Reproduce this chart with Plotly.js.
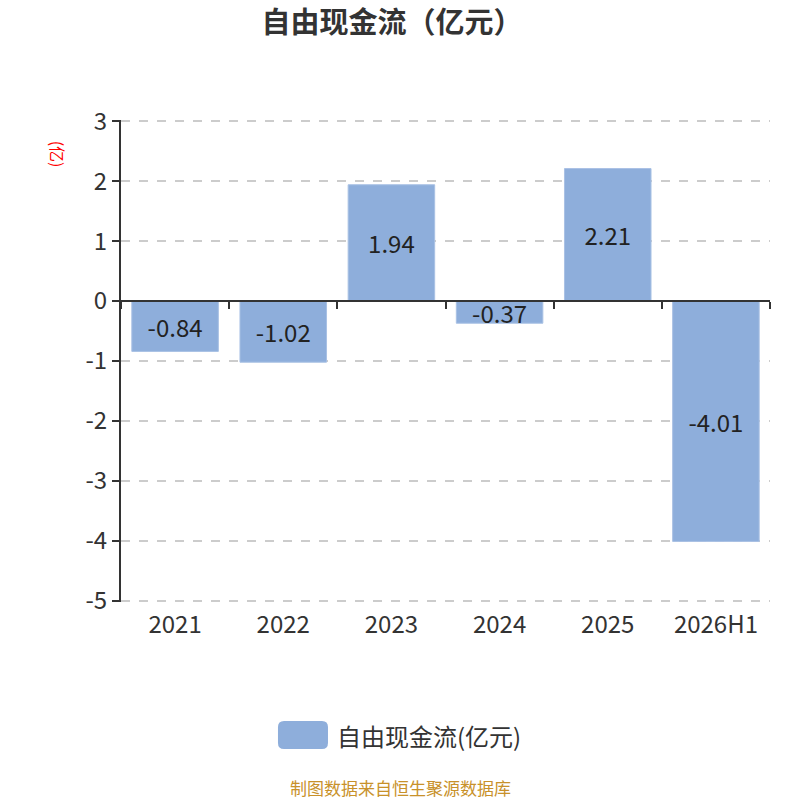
<!DOCTYPE html>
<html>
<head>
<meta charset="utf-8">
<script src="https://cdn.plot.ly/plotly-3.0.1.min.js"></script>
<style>
html,body{margin:0;padding:0;background:#fff;}
#chart{width:800px;height:800px;}
</style>
</head>
<body>
<div id="chart"></div>
<script>
var categories = ["2021", "2022", "2023", "2024", "2025", "2026H1"];
var values = [-0.84, -1.02, 1.94, -0.37, 2.21, -4.01];
var seriesName = "自由现金流(亿元)";
var yTicks = [3, 2, 1, 0, -1, -2, -3, -4, -5];

var FONT = '"Noto Sans CJK SC", "Noto Sans", sans-serif';
var BAR_COLOR = '#8eaedb';

var trace = {
  type: 'bar',
  x: categories,
  y: values,
  name: seriesName,
  width: 0.8,
  marker: {color: BAR_COLOR, line: {color: '#a9c1e4', width: 1}},
  text: values.map(function(v){return v.toFixed(2);}),
  textposition: 'inside',
  insidetextanchor: 'middle',
  textangle: 0,
  constraintext: 'none',
  textfont: {family: FONT, size: 24, color: '#222'},
  cliponaxis: false,
  showlegend: false,
  hoverinfo: 'x+y'
};

// helper trace on the zero-line axis (for boundary tick marks)
var helper = {
  type: 'bar',
  x: categories,
  y: values.map(function(){return 0;}),
  xaxis: 'x2',
  yaxis: 'y',
  showlegend: false,
  hoverinfo: 'skip',
  marker: {color: 'rgba(0,0,0,0)'}
};

var layout = {
  width: 800,
  height: 800,
  paper_bgcolor: '#fff',
  plot_bgcolor: '#fff',
  margin: {l: 121, r: 30, t: 120, b: 198},
  title: {
    text: '<b>自由现金流（亿元）</b>',
    font: {family: FONT, size: 29, color: '#333'},
    x: 0.49, xanchor: 'center',
    y: 0.972, yanchor: 'middle'
  },
  font: {family: FONT, color: '#333'},
  uniformtext: {mode: 'show', minsize: 24},
  bargap: 0.2,
  showlegend: false,
  xaxis: {
    type: 'category',
    showline: false,
    ticks: '',
    showgrid: false,
    zeroline: false,
    tickfont: {family: FONT, size: 24, color: '#333'},
    ticklabelstandoff: 6,
    fixedrange: true
  },
  xaxis2: {
    type: 'category',
    overlaying: 'x',
    anchor: 'free',
    position: 5.02 / 8.04,
    side: 'bottom',
    showline: true,
    linecolor: '#333',
    linewidth: 2,
    ticks: 'outside',
    ticklen: 7,
    tickwidth: 2,
    tickcolor: '#333',
    tickson: 'boundaries',
    showticklabels: false,
    showgrid: false,
    zeroline: false,
    fixedrange: true
  },
  yaxis: {
    range: [-5.02, 3.02],
    tickvals: yTicks,
    ticktext: yTicks.map(String),
    showline: true,
    linecolor: '#333',
    linewidth: 2,
    ticks: 'outside',
    ticklen: 7,
    tickwidth: 2,
    tickcolor: '#333',
    tickfont: {family: FONT, size: 24, color: '#333'},
    showgrid: true,
    gridcolor: '#cccccc',
    griddash: 'dash',
    gridwidth: 1.5,
    zeroline: false,
    fixedrange: true
  },
  shapes: [
    {
      type: 'path',
      xref: 'paper', yref: 'paper',
      xsizemode: 'pixel', ysizemode: 'pixel',
      xanchor: 0.2804, yanchor: -0.276,
      path: 'M -19,-14 L 19,-14 Q 25,-14 25,-8 L 25,8 Q 25,14 19,14 L -19,14 Q -25,14 -25,8 L -25,-8 Q -25,-14 -19,-14 Z',
      fillcolor: BAR_COLOR,
      line: {width: 0}
    }
  ],
  annotations: [
    {
      text: seriesName,
      xref: 'paper', yref: 'paper',
      x: 0.330, y: -0.276,
      xanchor: 'left', yanchor: 'middle',
      showarrow: false,
      font: {family: FONT, size: 24, color: '#333'}
    },
    {
      text: '(亿)',
      xref: 'paper', yref: 'paper',
      x: -0.097, y: 0.93,
      xanchor: 'center', yanchor: 'middle',
      textangle: 90,
      showarrow: false,
      font: {family: FONT, size: 16, color: '#ff0000'}
    },
    {
      text: '制图数据来自恒生聚源数据库',
      xref: 'paper', yref: 'paper',
      x: 0.43, y: -0.384,
      xanchor: 'center', yanchor: 'middle',
      showarrow: false,
      font: {family: FONT, size: 17, color: '#c8912a'}
    }
  ]
};

Plotly.newPlot('chart', [trace, helper], layout, {displayModeBar: false, staticPlot: true});
</script>
</body>
</html>
